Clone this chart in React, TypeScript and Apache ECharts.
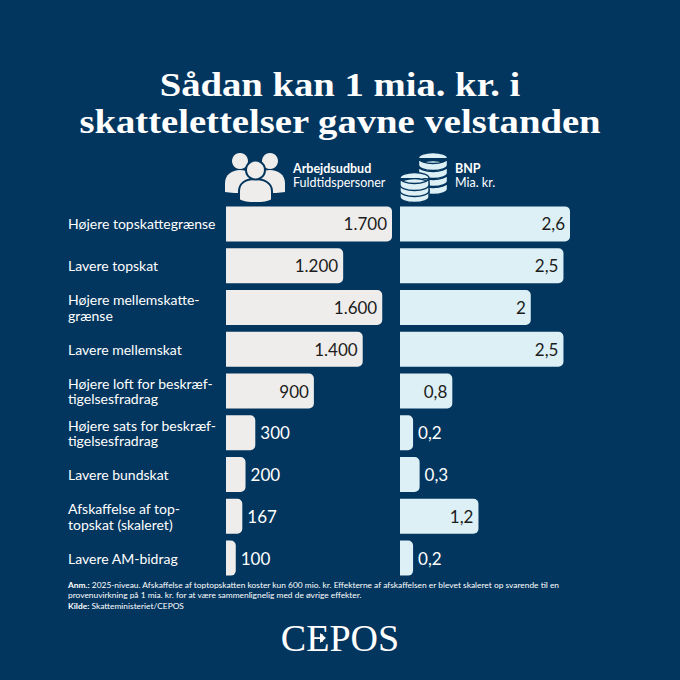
import * as echarts from 'echarts'
import { useEffect, useRef } from 'react'

const categories = [
  'Højere topskattegrænse',
  'Lavere topskat',
  'Højere mellemskatte-\ngrænse',
  'Lavere mellemskat',
  'Højere loft for beskræf-\ntigelsesfradrag',
  'Højere sats for beskræf-\ntigelsesfradrag',
  'Lavere bundskat',
  'Afskaffelse af top-\ntopskat (skaleret)',
  'Lavere AM-bidrag',
]
const laborValues = [1700, 1200, 1600, 1400, 900, 300, 200, 167, 100]
const gdpValues = [2.6, 2.5, 2, 2.5, 0.8, 0.2, 0.3, 1.2, 0.2]

const titleLines = ['Sådan kan 1 mia. kr. i', 'skattelettelser gavne velstanden']
const noteLines = [
  '{b|Anm.:} 2025-niveau. Afskaffelse af toptopskatten koster kun 600 mio. kr. Effekterne af afskaffelsen er blevet skaleret op svarende til en',
  'provenuvirkning på 1 mia. kr. for at være sammenlignelig med de øvrige effekter.',
  '{b|Kilde:} Skatteministeriet/CEPOS',
]

const BG = '#03365e'
const LABOR = '#efedeb'
const GDP = '#dcf0f5'
const SANS = 'Lato'
const SERIF = '"Liberation Serif"'

// ikoner
echarts.graphic.registerShape('bodyLeft', echarts.graphic.extendPath(
  'M225 192 L225 183 C225 175 232 170 240 170 C244 170 248 171 251 174 L245 193 C238 193 230 193 225 192 Z', {}))
echarts.graphic.registerShape('bodyRight', echarts.graphic.extendPath(
  'M285 192 L285 183 C285 175 278 170 270 170 C266 170 262 171 259 174 L265 193 C272 193 280 193 285 192 Z', {}))
echarts.graphic.registerShape('bodyCenter', echarts.graphic.extendPath(
  'M239 200 L239 191 C239 183 246 179 255 179 C264 179 272 183 272 191 L272 200 C265 204 246 204 239 200 Z', {}))
echarts.graphic.registerShape('coin', echarts.graphic.extendPath(
  'M-14.5 0 A14.5 5.5 0 0 1 14.5 0 L14.5 7 A14.5 5.5 0 0 1 -14.5 7 Z M-14.5 0 A14.5 5.5 0 0 0 14.5 0', {}))

const coin = (x: number, y: number) => ({
  type: 'coin', x, y,
  style: { fill: GDP, stroke: BG, lineWidth: 1.4 },
})

const valueLabel = (text: string, inside: boolean) => ({
  show: true,
  position: inside ? 'insideRight' : 'right',
  distance: 5,
  formatter: text,
  color: inside ? '#1c1c1c' : '#ffffff',
  fontFamily: SANS,
  fontSize: 17,
})

export default function App() {
  const chartRef = useRef<HTMLDivElement>(null)

  useEffect(() => {
    if (!chartRef.current) return
    const chart = echarts.init(chartRef.current, null, { renderer: 'svg' })

    const option: any = {
      animation: false,
      backgroundColor: BG,
      grid: [
        { left: 226, top: 203, width: 166, height: 376 },
        { left: 400, top: 203, width: 170, height: 376 },
      ],
      xAxis: [
        { gridIndex: 0, type: 'value', min: 0, max: 1700, show: false },
        { gridIndex: 1, type: 'value', min: 0, max: 2.6, show: false },
      ],
      yAxis: [
        {
          gridIndex: 0,
          type: 'category',
          inverse: true,
          data: categories,
          axisLine: { show: false },
          axisTick: { show: false },
          axisLabel: {
            color: '#ffffff',
            fontFamily: SANS,
            fontSize: 14,
            lineHeight: 15.5,
            align: 'left',
            margin: 158,
          },
        },
        {
          gridIndex: 1,
          type: 'category',
          inverse: true,
          data: categories,
          axisLine: { show: false },
          axisTick: { show: false },
          axisLabel: { show: false },
        },
      ],
      series: [
        {
          type: 'bar',
          xAxisIndex: 0,
          yAxisIndex: 0,
          barWidth: 35,
          itemStyle: { color: LABOR, borderRadius: [0, 5, 5, 0] },
          data: laborValues.map(v => ({
            value: v,
            label: valueLabel(v >= 1000 ? `${Math.floor(v / 1000)}.${String(v % 1000).padStart(3, '0')}` : String(v), v >= 900),
          })),
        },
        {
          type: 'bar',
          xAxisIndex: 1,
          yAxisIndex: 1,
          barWidth: 35,
          itemStyle: { color: GDP, borderRadius: [0, 5, 5, 0] },
          data: gdpValues.map(v => ({
            value: v,
            label: valueLabel(String(v).replace('.', ','), v >= 0.8),
          })),
        },
      ],
      graphic: [
        // titel
        ...titleLines.map((line, i) => ({
          type: 'text',
          x: 340,
          y: 85 + i * 36.5,
          scaleX: 1.172,
          style: {
            text: line,
            fill: '#ffffff',
            font: `bold 33px ${SERIF}`,
            textAlign: 'center',
            textVerticalAlign: 'middle',
          },
        })),
        // personer
        { type: 'circle', shape: { cx: 240, cy: 161, r: 8 }, style: { fill: LABOR } },
        { type: 'circle', shape: { cx: 270, cy: 161, r: 8 }, style: { fill: LABOR } },
        { type: 'bodyLeft', x: 0, y: 0, style: { fill: LABOR } },
        { type: 'bodyRight', x: 0, y: 0, style: { fill: LABOR } },
        { type: 'bodyCenter', x: 0, y: 0, style: { fill: LABOR, stroke: BG, lineWidth: 2 } },
        { type: 'circle', shape: { cx: 255.5, cy: 170, r: 9.5 }, style: { fill: LABOR, stroke: BG, lineWidth: 2 } },
        // mønter
        coin(433, 182),
        coin(433, 174),
        coin(433, 166),
        coin(433, 158),
        coin(414.5, 190),
        coin(414.5, 184),
        coin(414.5, 178),
        // overskrifter
        { type: 'text', x: 293, y: 162, style: { text: 'Arbejdsudbud', fill: '#ffffff', font: `bold 12.5px ${SANS}` } },
        { type: 'text', x: 293, y: 176, style: { text: 'Fuldtidspersoner', fill: '#ffffff', font: `12.5px ${SANS}` } },
        { type: 'text', x: 455, y: 162, style: { text: 'BNP', fill: '#ffffff', font: `bold 12.5px ${SANS}` } },
        { type: 'text', x: 455, y: 176, style: { text: 'Mia. kr.', fill: '#ffffff', font: `12.5px ${SANS}` } },
        // noter
        ...noteLines.map((line, i) => ({
          type: 'text',
          x: 68,
          y: 581 + i * 10.3,
          style: {
            text: line,
            fill: '#ffffff',
            font: `8.4px ${SANS}`,
            rich: { b: { fontFamily: SANS, fontSize: 8.4, fontWeight: 'bold', fill: '#ffffff', color: '#ffffff' } },
          },
        })),
        // logo
        { type: 'text', x: 340, y: 638, style: { text: 'CEPOS', fill: '#ffffff', font: `38px ${SERIF}`, textAlign: 'center', textVerticalAlign: 'middle' } },
        { type: 'polygon', shape: { points: [[320, 633], [326, 638], [320, 643]] }, style: { fill: '#ffffff' } },
      ],
    }

    chart.setOption(option)

    return () => {
      chart.dispose()
    }
  }, [])

  return (
    <div
      ref={chartRef}
      style={{ position: 'absolute', left: 0, top: 0, width: 680, height: 680 }}
    />
  )
}
